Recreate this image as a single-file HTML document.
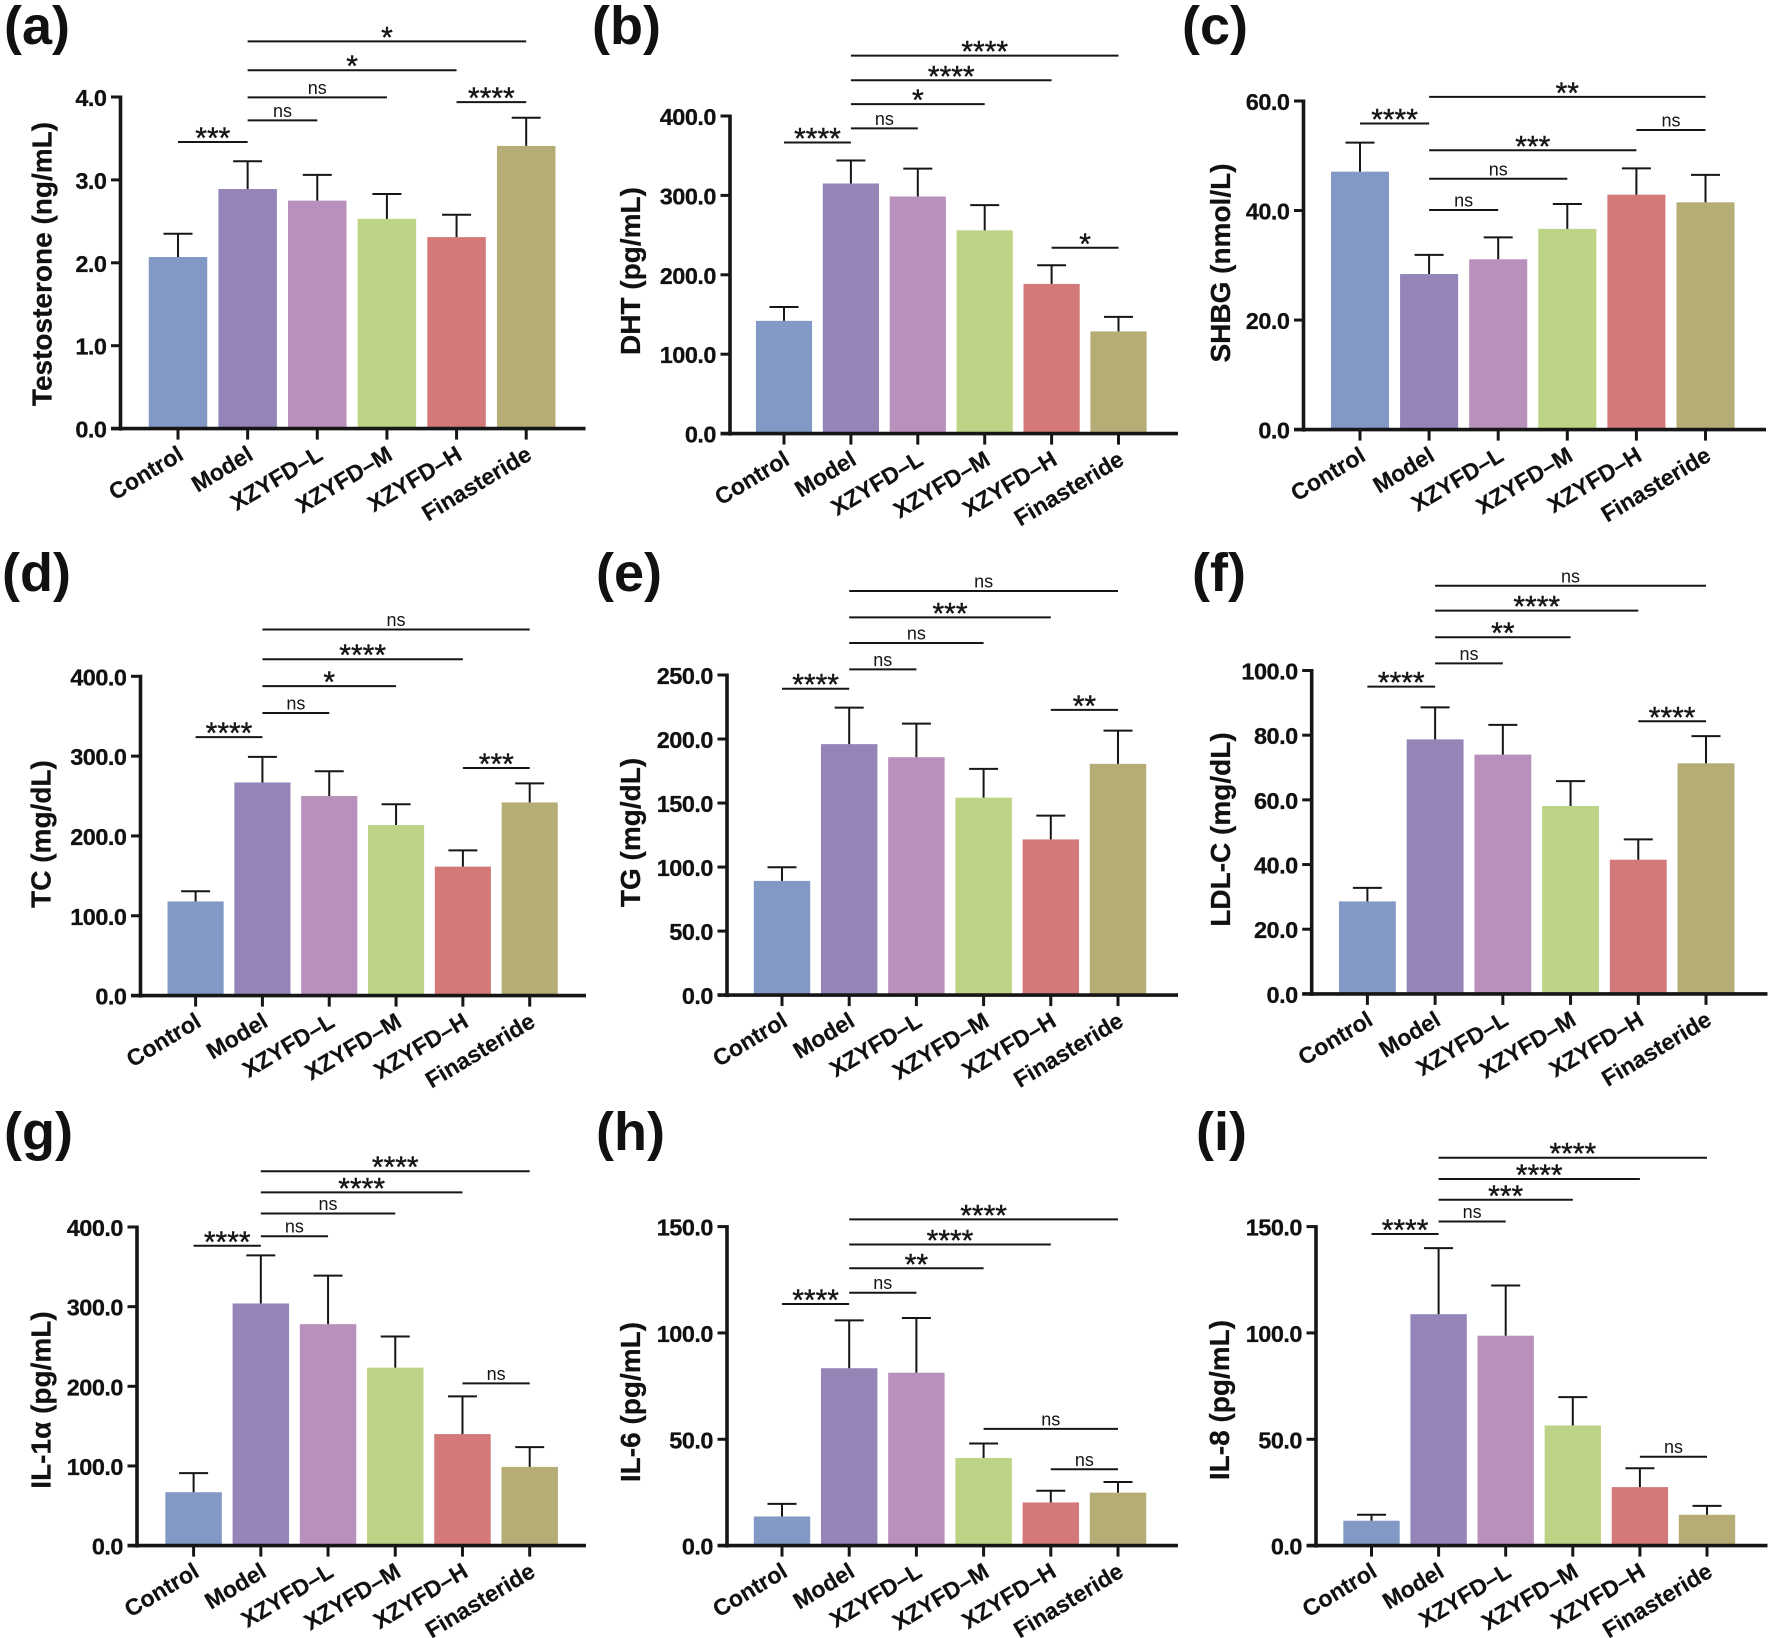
<!DOCTYPE html>
<html lang="en">
<head>
<meta charset="utf-8">
<title>Serum biomarker bar charts</title>
<style>
html,body{margin:0;padding:0;background:#fff;}
svg{display:block;font-family:"Liberation Sans",Arial,sans-serif;}
</style>
</head>
<body>
<svg id="figure" xmlns="http://www.w3.org/2000/svg" width="1772" height="1638" viewBox="0 0 1772 1638"></svg>
<script>
const categories = ['Control','Model','XZYFD–L','XZYFD–M','XZYFD–H','Finasteride'];
const barColors = ['#8199c4','#9484b8','#b990bc','#bdd385','#d47979','#b5ad75'];

const testosteroneTicks = ['0.0','1.0','2.0','3.0','4.0'];
const testosteroneMeans = [2.07,2.89,2.75,2.53,2.31,3.41];
const testosteroneUpper = [2.35,3.225,3.06,2.83,2.58,3.75];
const testosteroneBrackets = [[0,1,3.457,'***'],[1,2,3.718,'ns'],[1,3,3.996,'ns'],[4,5,3.938,'****'],[1,4,4.323,'*'],[1,5,4.671,'*']];

const dhtTicks = ['0.0','100.0','200.0','300.0','400.0'];
const dhtMeans = [142,315,298.6,256,188.5,128.7];
const dhtUpper = [159.5,344,333.7,287.8,212,147];
const dhtBrackets = [[0,1,366.6,'****'],[1,2,384.4,'ns'],[1,3,415,'*'],[1,4,445,'****'],[1,5,476,'****'],[4,5,234,'*']];

const shbgTicks = ['0.0','20.0','40.0','60.0'];
const shbgMeans = [47.1,28.4,31.1,36.65,42.9,41.5];
const shbgUpper = [52.4,31.9,35.1,41.2,47.7,46.5];
const shbgBrackets = [[0,1,55.9,'****'],[1,2,40.1,'ns'],[1,3,45.8,'ns'],[1,4,51,'***'],[4,5,54.7,'ns'],[1,5,60.75,'**']];

const tcTicks = ['0.0','100.0','200.0','300.0','400.0'];
const tcMeans = [118,267,250,213.7,161.6,242];
const tcUpper = [130.7,299,281,239.7,182,265.8];
const tcBrackets = [[0,1,323.8,'****'],[1,2,354,'ns'],[1,3,387.7,'*'],[1,4,421.4,'****'],[1,5,458.6,'ns'],[4,5,285.2,'***']];

const tgTicks = ['0.0','50.0','100.0','150.0','200.0','250.0'];
const tgMeans = [89.2,196,185.8,154.2,121.6,180.6];
const tgUpper = [99.9,224.5,212,176.7,140.2,206.6];
const tgBrackets = [[0,1,239.3,'****'],[1,2,254.4,'ns'],[1,3,275,'ns'],[1,4,295,'***'],[1,5,315.6,'ns'],[4,5,222.8,'**']];

const ldlTicks = ['0.0','20.0','40.0','60.0','80.0','100.0'];
const ldlMeans = [28.6,78.7,74,58.1,41.5,71.3];
const ldlUpper = [32.8,88.6,83.2,65.8,47.8,79.7];
const ldlBrackets = [[0,1,95,'****'],[1,2,102.2,'ns'],[1,3,110.3,'**'],[1,4,118.5,'****'],[1,5,126.2,'ns'],[4,5,84.3,'****']];

const il1Ticks = ['0.0','100.0','200.0','300.0','400.0'];
const il1Means = [67,304,278,223.4,140,98.8];
const il1Upper = [91,364.3,339,262.5,187.3,123.7];
const il1Brackets = [[0,1,376.4,'****'],[1,2,388.4,'ns'],[1,3,417,'ns'],[1,4,443.4,'****'],[1,5,470,'****'],[4,5,203.7,'ns']];

const il6Ticks = ['0.0','50.0','100.0','150.0'];
const il6Means = [13.7,83.4,81.3,41.2,20.3,24.9];
const il6Upper = [19.6,105.9,107,48,25.8,29.9];
const il6Brackets = [[0,1,113.6,'****'],[1,2,118.9,'ns'],[1,3,130.4,'**'],[1,4,141.6,'****'],[1,5,153.4,'****'],[3,5,54.9,'ns'],[4,5,35.9,'ns']];

const il8Ticks = ['0.0','50.0','100.0','150.0'];
const il8Means = [11.7,108.8,98.7,56.5,27.5,14.5];
const il8Upper = [14.5,139.9,122.3,69.8,36.4,18.7];
const il8Brackets = [[0,1,146.5,'****'],[1,2,152.4,'ns'],[1,3,162.6,'***'],[1,4,172.4,'****'],[1,5,182.4,'****'],[4,5,41.8,'ns']];

const panels = [
  {key:'a',title:'Testosterone (ng/mL)',ticks:testosteroneTicks,means:testosteroneMeans,upper:testosteroneUpper,brackets:testosteroneBrackets,
   axisX:120.5,y0:428.6,yTop:97,first:178,last:526.2,right:585.5,letterX:4,letterY:44,titleX:51.5,titleY:264},
  {key:'b',title:'DHT (pg/mL)',ticks:dhtTicks,means:dhtMeans,upper:dhtUpper,brackets:dhtBrackets,
   axisX:730,y0:433.6,yTop:116,first:784,last:1118.5,right:1178,letterX:592,letterY:44,titleX:640,titleY:271},
  {key:'c',title:'SHBG (nmol/L)',ticks:shbgTicks,means:shbgMeans,upper:shbgUpper,brackets:shbgBrackets,
   axisX:1303.5,y0:429.6,yTop:101,first:1360,last:1705.5,right:1766,letterX:1182,letterY:44,titleX:1230,titleY:263},
  {key:'d',title:'TC (mg/dL)',ticks:tcTicks,means:tcMeans,upper:tcUpper,brackets:tcBrackets,
   axisX:140.5,y0:995.6,yTop:676.3,first:195.6,last:529.7,right:586,letterX:2,letterY:591,titleX:50.5,titleY:834},
  {key:'e',title:'TG (mg/dL)',ticks:tgTicks,means:tgMeans,upper:tgUpper,brackets:tgBrackets,
   axisX:727,y0:995.1,yTop:675,first:782,last:1118,right:1178,letterX:596,letterY:591,titleX:640,titleY:832.5},
  {key:'f',title:'LDL-C (mg/dL)',ticks:ldlTicks,means:ldlMeans,upper:ldlUpper,brackets:ldlBrackets,
   axisX:1311.7,y0:993.9,yTop:670.5,first:1367.4,last:1706,right:1767.5,letterX:1192,letterY:591,titleX:1230,titleY:829.5},
  {key:'g',title:'IL-1α (pg/mL)',ticks:il1Ticks,means:il1Means,upper:il1Upper,brackets:il1Brackets,
   axisX:137,y0:1545.6,yTop:1227,first:193.6,last:529.7,right:586,letterX:4,letterY:1150,titleX:50.5,titleY:1400},
  {key:'h',title:'IL-6 (pg/mL)',ticks:il6Ticks,means:il6Means,upper:il6Upper,brackets:il6Brackets,
   axisX:727,y0:1545.6,yTop:1226.6,first:782,last:1118,right:1178,letterX:596,letterY:1150,titleX:640,titleY:1402},
  {key:'i',title:'IL-8 (pg/mL)',ticks:il8Ticks,means:il8Means,upper:il8Upper,brackets:il8Brackets,
   axisX:1316,y0:1545.6,yTop:1226.6,first:1371.5,last:1707,right:1767.5,letterX:1196,letterY:1150,titleX:1229,titleY:1400}
];

const NS = 'http://www.w3.org/2000/svg';
const figure = document.getElementById('figure');
const INK = '#161616';

function mk(parent, tag, props, text) {
  const el = document.createElementNS(NS, tag);
  for (const k in props) el.setAttribute(k, props[k]);
  if (text !== undefined) el.textContent = text;
  parent.appendChild(el);
  return el;
}

function drawPanel(p) {
  const maxValue = parseFloat(p.ticks[p.ticks.length - 1]);
  const yScale = v => p.y0 - (v / maxValue) * (p.y0 - p.yTop);
  const step = (p.last - p.first) / (categories.length - 1);
  const xScale = i => p.first + i * step;
  const barW = step * 0.84;

  const g = mk(figure, 'g', {});
  
  

  const letter = mk(g, 'text', {x:p.letterX, y:p.letterY, 'font-size':54, 'font-weight':700, fill:'#111'}, '(' + p.key + ')');
  
  

  const title = mk(g, 'text', {x:p.titleX, y:p.titleY, 'font-size':28, 'font-weight':700, fill:'#111', 'text-anchor':'middle',
    stroke:'#111', 'stroke-width':0.25, transform:'rotate(-90 ' + p.titleX + ' ' + p.titleY + ')'}, p.title);
  
  

  categories.forEach((c, i) => {
    const cx = xScale(i);
    const top = yScale(p.means[i]);
    const bar = mk(g, 'rect', {x:cx - barW / 2, y:top, width:barW, height:p.y0 - top, fill:barColors[i]});
    
    

    const upper = yScale(p.upper[i]);
    const stem = mk(g, 'line', {x1:cx, x2:cx, y1:top, y2:upper, stroke:INK, 'stroke-width':2});
    
    
    const cap = mk(g, 'line', {x1:cx - 14.5, x2:cx + 14.5, y1:upper, y2:upper, stroke:INK, 'stroke-width':2});
    
    

    const tick = mk(g, 'line', {x1:cx, x2:cx, y1:p.y0, y2:p.y0 + 11, stroke:INK, 'stroke-width':3});
    
    

    const lx = cx + 7;
    const ly = p.y0 + 30;
    const label = mk(g, 'text', {x:lx, y:ly, 'font-size':23, 'font-weight':700, fill:'#111', 'text-anchor':'end',
      stroke:'#111', 'stroke-width':0.2, transform:'rotate(-31 ' + lx + ' ' + ly + ')'}, c);
    
    
  });

  const yAxis = mk(g, 'line', {x1:p.axisX, x2:p.axisX, y1:p.yTop - 1.5, y2:p.y0 + 2, stroke:INK, 'stroke-width':3.6});
  
  
  const xAxis = mk(g, 'line', {x1:p.axisX - 9.5, x2:p.right, y1:p.y0, y2:p.y0, stroke:INK, 'stroke-width':3.6});
  
  

  p.ticks.forEach((t, i) => {
    const y = yScale(parseFloat(t));
    const tick = mk(g, 'line', {x1:p.axisX - 9.5, x2:p.axisX, y1:y, y2:y, stroke:INK, 'stroke-width':3});
    
    
    const label = mk(g, 'text', {x:p.axisX - 14, y:y + 9, 'font-size':23.5, 'font-weight':700, fill:'#111', 'text-anchor':'end',
      'letter-spacing':'-0.5', stroke:'#111', 'stroke-width':0.25}, t);
    
    
  });

  p.brackets.forEach((b, i) => {
    const y = yScale(b[2]);
    const line = mk(g, 'line', {x1:xScale(b[0]), x2:xScale(b[1]), y1:y, y2:y, stroke:INK, 'stroke-width':2});
    
    
    const mid = (xScale(b[0]) + xScale(b[1])) / 2;
    const isNs = b[3] === 'ns';
    const mark = mk(g, 'text', {x:mid, y:isNs ? y - 3.5 : y + 6, 'font-size':isNs ? 18 : 30, fill:'#161616', 'text-anchor':'middle',
      stroke:'#161616', 'stroke-width':isNs ? 0 : 0.4}, b[3]);
    
    
  });
}

panels.forEach(drawPanel);
</script>
</body>
</html>
